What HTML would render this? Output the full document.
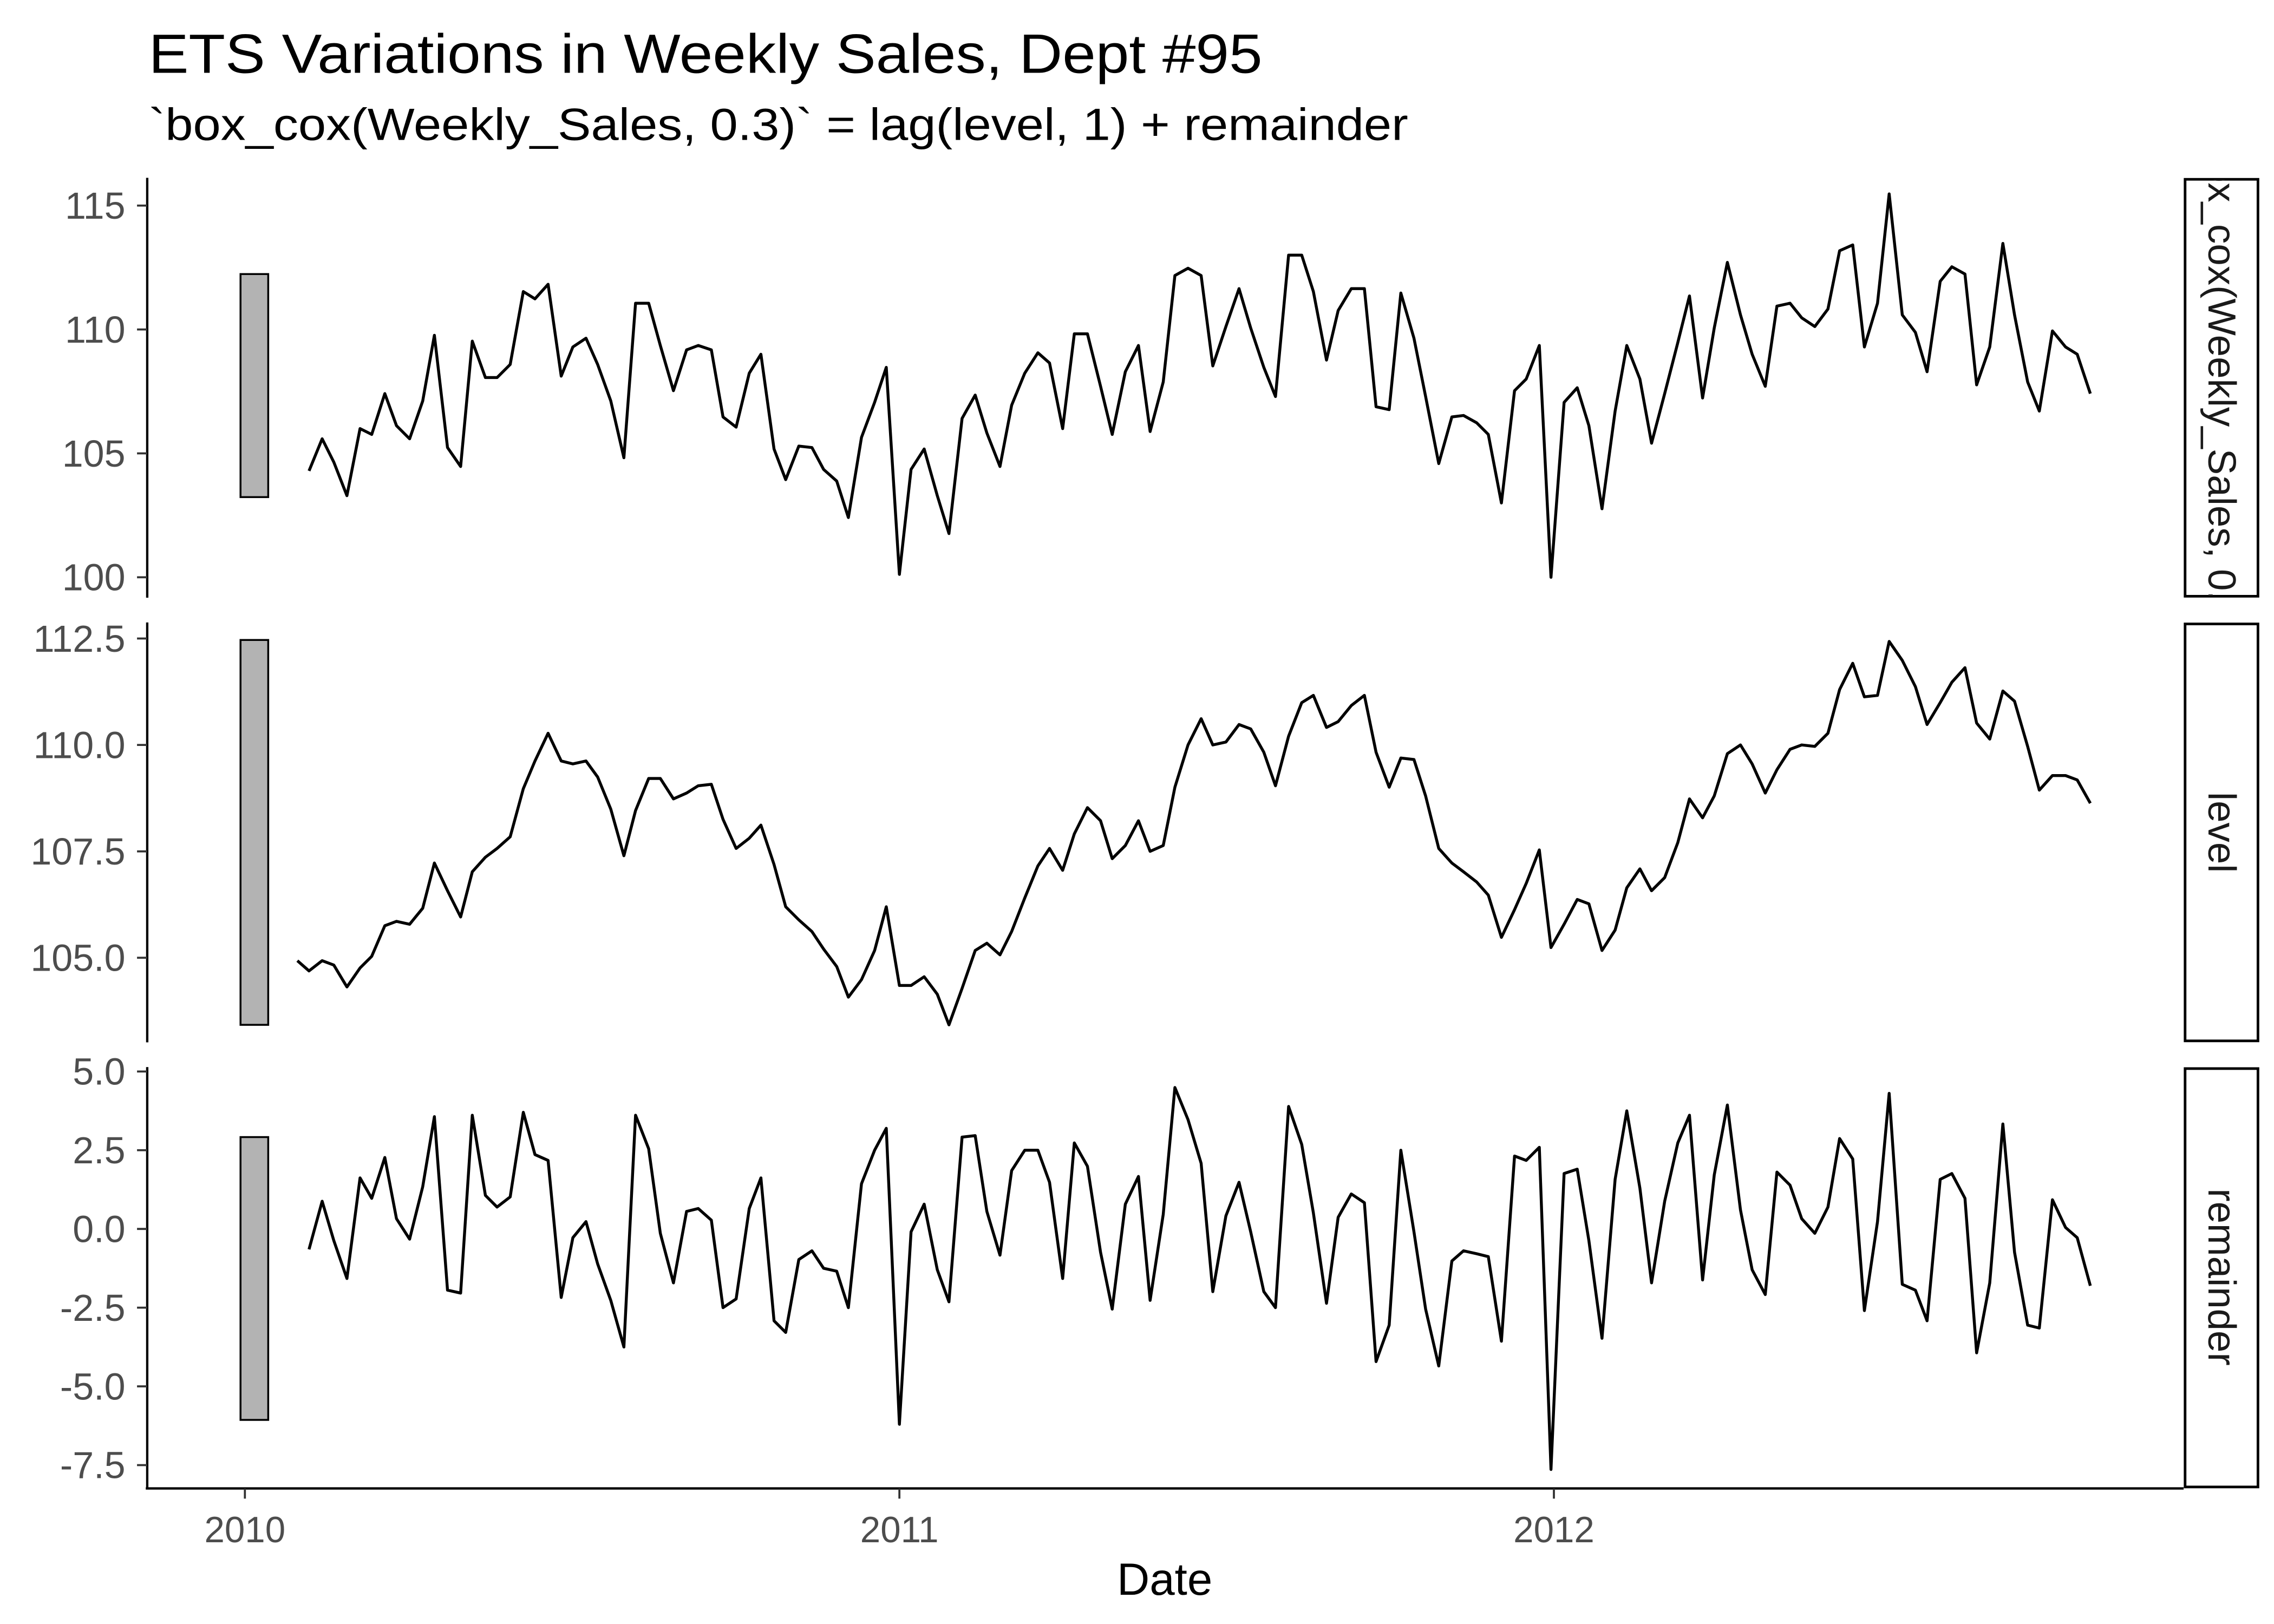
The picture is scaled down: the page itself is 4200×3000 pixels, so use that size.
<!DOCTYPE html>
<html><head><style>html,body{margin:0;padding:0;background:#fff}svg{display:block}</style></head>
<body>
<svg xmlns="http://www.w3.org/2000/svg" width="4200" height="3000" viewBox="0 0 1560 1114" preserveAspectRatio="none" font-family="Liberation Sans, Arial, sans-serif">
<defs>
<clipPath id="c1"><rect x="1499" y="123" width="50" height="286"/></clipPath>
</defs>
<rect width="1560" height="1114" fill="#fff"/>
<text x="102" y="50" font-size="38" textLength="764" lengthAdjust="spacingAndGlyphs" fill="#000">ETS Variations in Weekly Sales, Dept #95</text>
<text x="102" y="96" font-size="31" textLength="864" lengthAdjust="spacingAndGlyphs" fill="#000">`box_cox(Weekly_Sales, 0.3)` = lag(level, 1) + remainder</text>

<g stroke="#000" stroke-width="1.6" fill="none">
<line x1="101" y1="122" x2="101" y2="410"/>
<line x1="101" y1="427" x2="101" y2="715"/>
<line x1="101" y1="732" x2="101" y2="1021"/>
<line x1="100" y1="1021" x2="1498" y2="1021"/>
</g>
<g stroke="#333" stroke-width="1.4">
<line x1="94" y1="141" x2="101" y2="141"/><line x1="94" y1="226" x2="101" y2="226"/><line x1="94" y1="311" x2="101" y2="311"/><line x1="94" y1="396" x2="101" y2="396"/>
<line x1="94" y1="438" x2="101" y2="438"/><line x1="94" y1="511" x2="101" y2="511"/><line x1="94" y1="584" x2="101" y2="584"/><line x1="94" y1="657" x2="101" y2="657"/>
<line x1="94" y1="735" x2="101" y2="735"/><line x1="94" y1="789" x2="101" y2="789"/><line x1="94" y1="843" x2="101" y2="843"/><line x1="94" y1="897" x2="101" y2="897"/><line x1="94" y1="951" x2="101" y2="951"/><line x1="94" y1="1005" x2="101" y2="1005"/>
<line x1="168" y1="1021" x2="168" y2="1028"/><line x1="617" y1="1021" x2="617" y2="1028"/><line x1="1066" y1="1021" x2="1066" y2="1028"/>
</g>
<g font-size="26" fill="#4d4d4d" text-anchor="end">
<text x="86" y="150">115</text><text x="86" y="235">110</text><text x="86" y="320">105</text><text x="86" y="405">100</text>
<text x="86" y="447">112.5</text><text x="86" y="520">110.0</text><text x="86" y="593">107.5</text><text x="86" y="666">105.0</text>
<text x="86" y="744">5.0</text><text x="86" y="798">2.5</text><text x="86" y="852">0.0</text><text x="86" y="906">-2.5</text><text x="86" y="960">-5.0</text><text x="86" y="1014">-7.5</text>
</g>
<g font-size="25" fill="#4d4d4d" text-anchor="middle">
<text x="168" y="1058">2010</text><text x="617" y="1058">2011</text><text x="1066" y="1058">2012</text>
</g>
<text x="799" y="1094" font-size="31" text-anchor="middle" fill="#000">Date</text>

<g fill="#b3b3b3" stroke="#000" stroke-width="1.3">
<rect x="165" y="188" width="19" height="153"/>
<rect x="165" y="439" width="19" height="264"/>
<rect x="165" y="780" width="19" height="194"/>
</g>

<g fill="#fff" stroke="#000" stroke-width="1.8">
<rect x="1499" y="123" width="50" height="286"/>
<rect x="1499" y="428" width="50" height="286"/>
<rect x="1499" y="733" width="50" height="287"/>
</g>
<g font-size="27" fill="#1a1a1a" text-anchor="middle">
<g clip-path="url(#c1)"><text transform="translate(1515,266) rotate(90)">box_cox(Weekly_Sales, 0.3)</text></g>
<text transform="translate(1515,571) rotate(90)">level</text>
<text transform="translate(1515,876) rotate(90)">remainder</text>
</g>

<g fill="none" stroke="#000" stroke-width="2" stroke-linejoin="round">
<polyline points="212,323 221,301 229,317 238,340 247,294 255,298 264,270 272,292 281,301 290,275 298,230 307,307 316,320 324,234 333,259 341,259 350,250 359,200 367,205 376,195 385,258 393,238 402,232 410,250 419,275 428,314 436,208 445,208 453,237 462,268 471,240 479,237 488,240 496,286 505,293 514,256 522,243 531,308 539,329 548,306 557,307 565,322 574,330 582,355 591,300 600,276 608,252 617,394 625,322 634,308 643,340 651,366 660,287 669,271 677,297 686,320 694,278 703,256 712,242 720,249 729,294 737,229 746,229 755,265 763,298 772,255 781,237 789,296 798,262 806,189 815,184 824,189 832,251 841,224 850,198 858,225 867,252 875,272 884,175 893,175 901,200 910,247 918,213 927,198 936,198 944,279 953,281 961,201 970,232 978,272 987,318 996,286 1004,285 1013,290 1021,298 1030,345 1039,268 1047,260 1056,237 1064,396 1073,276 1082,266 1090,292 1099,349 1108,282 1116,237 1125,260 1133,304 1142,270 1151,235 1159,203 1168,273 1176,225 1185,180 1194,216 1202,243 1211,265 1219,210 1228,208 1236,218 1245,224 1254,212 1262,172 1271,168 1279,238 1288,208 1296,133 1305,216 1314,228 1322,255 1331,193 1339,183 1348,188 1356,264 1365,238 1374,167 1382,216 1391,262 1399,282 1408,227 1417,238 1425,243 1434,270"/>
<polyline points="204,659 212,666 221,659 229,662 238,677 247,664 255,656 264,635 272,632 281,634 290,623 298,592 307,611 316,629 324,598 333,588 341,582 350,574 359,541 367,522 376,503 385,522 393,524 402,522 410,533 419,555 428,587 436,556 445,534 453,534 462,548 471,544 479,539 488,538 496,562 505,582 514,575 522,566 531,593 539,622 548,631 557,639 565,651 574,663 582,684 591,672 600,652 608,622 617,676 625,676 634,670 643,682 651,703 660,678 669,652 677,647 686,655 694,639 703,616 712,594 720,582 729,597 737,572 746,554 755,563 763,589 772,580 781,563 789,584 798,580 806,540 815,511 824,493 832,511 841,509 850,497 858,500 867,516 875,539 884,505 893,482 901,477 910,499 918,495 927,484 936,477 944,516 953,540 961,520 970,521 978,546 987,582 996,592 1004,598 1013,605 1021,614 1030,643 1039,624 1047,606 1056,583 1064,650 1073,634 1082,617 1090,620 1099,652 1108,638 1116,609 1125,596 1133,611 1142,602 1151,578 1159,548 1168,561 1176,546 1185,517 1194,511 1202,524 1211,544 1219,528 1228,514 1236,511 1245,512 1254,503 1262,473 1271,455 1279,478 1288,477 1296,440 1305,453 1314,471 1322,497 1331,482 1339,468 1348,458 1356,496 1365,507 1374,474 1382,481 1391,512 1399,542 1408,532 1417,532 1425,535 1434,551"/>
<polyline points="212,857 221,824 229,851 238,877 247,808 255,822 264,794 272,836 281,850 290,814 298,766 307,885 316,887 324,765 333,820 341,828 350,821 359,763 367,792 376,796 385,890 393,849 402,838 410,867 419,892 428,924 436,765 445,788 453,846 462,880 471,831 479,829 488,837 496,897 505,891 514,829 522,808 531,906 539,914 548,864 557,858 565,870 574,872 582,897 591,812 600,789 608,774 617,977 625,845 634,826 643,871 651,893 660,780 669,779 677,831 686,861 694,803 703,789 712,789 720,811 729,877 737,784 746,800 755,859 763,898 772,826 781,807 789,892 798,833 806,746 815,768 824,798 832,886 841,834 850,811 858,845 867,886 875,897 884,759 893,785 901,832 910,894 918,835 927,819 936,825 944,934 953,909 961,789 970,845 978,898 987,937 996,865 1004,858 1013,860 1021,862 1030,920 1039,793 1047,796 1056,787 1064,1008 1073,805 1082,802 1090,851 1099,918 1108,809 1116,762 1125,815 1133,880 1142,824 1151,784 1159,765 1168,878 1176,806 1185,758 1194,830 1202,871 1211,888 1219,804 1228,813 1236,836 1245,846 1254,828 1262,781 1271,795 1279,899 1288,838 1296,750 1305,881 1314,885 1322,906 1331,809 1339,805 1348,822 1356,928 1365,880 1374,771 1382,859 1391,909 1399,911 1408,823 1417,842 1425,849 1434,882"/>
</g>
</svg>
</body></html>
